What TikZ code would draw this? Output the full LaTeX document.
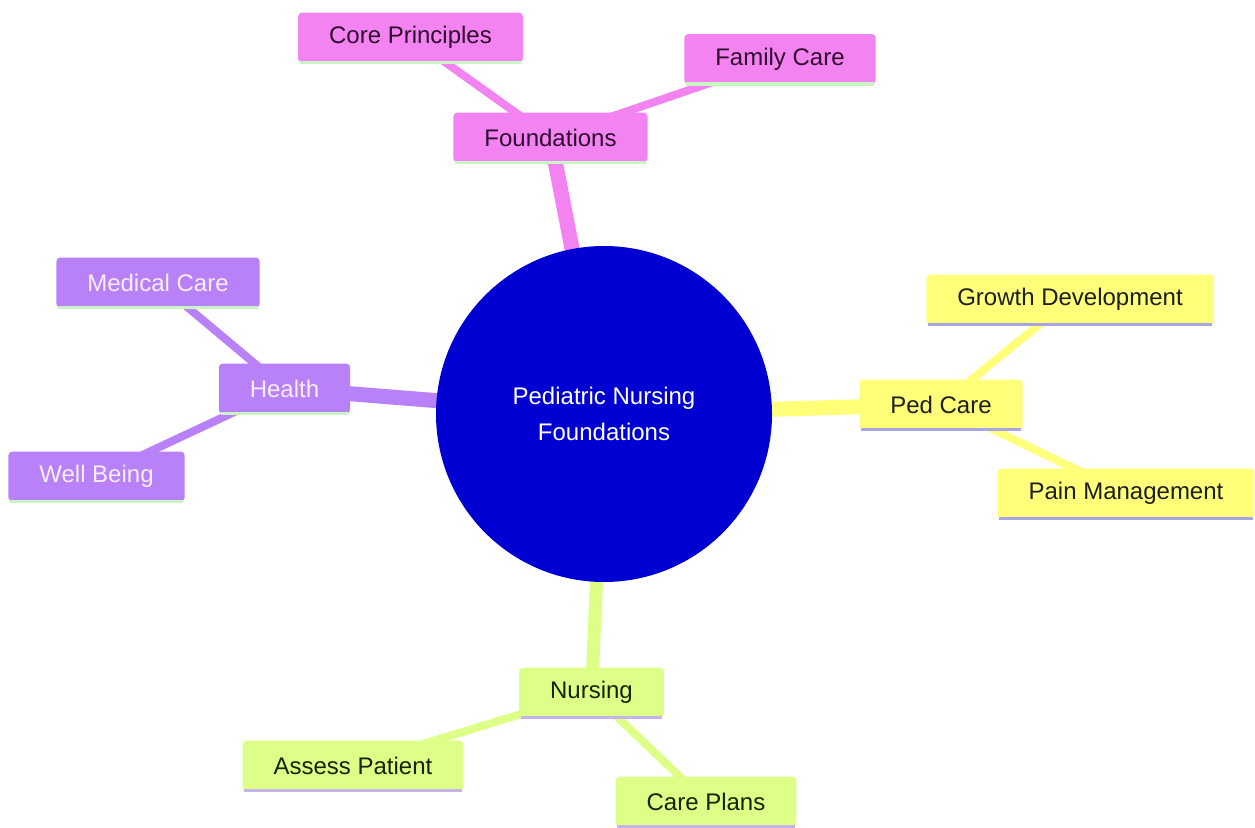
\documentclass[tikz,border=0pt]{standalone}
\usepackage{fontspec}
\setmainfont{Liberation Sans}
\usetikzlibrary{backgrounds}
\definecolor{pinkF}{HTML}{F283F0}
\definecolor{purpF}{HTML}{B981F7}
\definecolor{yelF}{HTML}{FFFF7A}
\definecolor{grnF}{HTML}{DDFF88}
\definecolor{blueF}{HTML}{0000D2}
\definecolor{pinkT}{HTML}{2E0B2E}
\definecolor{purpT}{HTML}{F7EEFF}
\definecolor{yelT}{HTML}{1E1E1E}
\definecolor{grnT}{HTML}{172200}
\definecolor{lgrn}{HTML}{C9F4C4}
\definecolor{lav}{HTML}{A8A6E2}
\definecolor{lav2}{HTML}{C4B4EA}
\tikzset{
  box/.style={rectangle, rounded corners=4pt, minimum height=50, inner xsep=31, inner ysep=0, font=\fontsize{24}{29}\selectfont},
  pinkbox/.style={box, fill=pinkF, text=pinkT},
  purpbox/.style={box, fill=purpF, text=purpT},
  yelbox/.style={box, fill=yelF, text=yelT},
  grnbox/.style={box, fill=grnF, text=grnT},
  mainedge/.style={line width=15},
  subedge/.style={line width=8},
  bline/.style={line width=3.5}
}
\begin{document}
\begin{tikzpicture}[x=1pt,y=-1pt]
\useasboundingbox (0,0) rectangle (1255,827);
% root
\node[circle, fill=blueF, minimum size=336, inner sep=0, text=white, align=center, font=\fontsize{24}{36}\selectfont] (root) at (604,414) {Pediatric Nursing\\Foundations};
% foundations
\node[pinkbox] (found) at (550.5,137.5) {Foundations};
\node[pinkbox] (core) at (410.5,37.5) {Core Principles};
\node[pinkbox] (fam) at (780,59) {Family Care};
% health
\node[purpbox] (health) at (284.5,388.5) {Health};
\node[purpbox] (med) at (158,282.5) {Medical Care};
\node[purpbox] (well) at (96.5,476.5) {Well Being};
% ped care
\node[yelbox] (ped) at (941,404.5) {Ped Care};
\node[yelbox] (growth) at (1070,299.5) {Growth Development};
\node[yelbox] (pain) at (1126,493.5) {Pain Management};
% nursing
\node[grnbox] (nurs) at (591.5,692.5) {Nursing};
\node[grnbox] (assess) at (353,765.5) {Assess Patient};
\node[grnbox] (plans) at (706,801.5) {Care Plans};
% bottom lines
\foreach \n in {found,core,fam,health,med,well}{
  \draw[bline, lgrn] ([xshift=2]\n.south west) -- ([xshift=-2]\n.south east);
}
\foreach \n in {ped,growth,pain}{
  \draw[bline, lav] ([xshift=2]\n.south west) -- ([xshift=-2]\n.south east);
}
\foreach \n in {nurs,assess,plans}{
  \draw[bline, lav2] ([xshift=2]\n.south west) -- ([xshift=-2]\n.south east);
}
\begin{pgfonlayer}{background}
\fill[white] (0,0) rectangle (1255,827);
\draw[mainedge, pinkF] (root.center) -- (found.center);
\draw[mainedge, purpF] (root.center) -- (health.center);
\draw[mainedge, yelF] (root.center) -- (ped.center);
\draw[mainedge, grnF, line width=13] (root.center) -- (nurs.center);
\draw[subedge, pinkF] (found.center) -- (core.center);
\draw[subedge, pinkF] (found.center) -- (fam.center);
\draw[subedge, purpF] (health.center) -- (med.center);
\draw[subedge, purpF] (health.center) -- (well.center);
\draw[subedge, yelF] (ped.center) -- (growth.center);
\draw[subedge, yelF] (ped.center) -- (pain.center);
\draw[subedge, grnF] (nurs.center) -- (assess.center);
\draw[subedge, grnF] (nurs.center) -- (plans.center);
\end{pgfonlayer}
\end{tikzpicture}
\end{document}
